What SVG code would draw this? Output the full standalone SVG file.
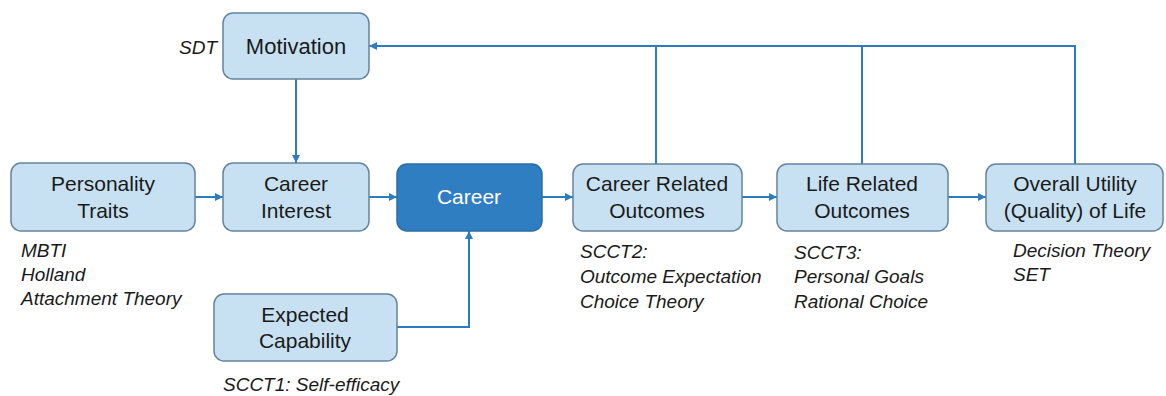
<svg xmlns="http://www.w3.org/2000/svg" width="1166" height="396" viewBox="0 0 1166 396">
<style>
.box{fill:#c7e1f2;stroke:#65849e;stroke-width:1.5}
.main{fill:#2f7ec2;stroke:#2a6da8;stroke-width:1.5}
.t{font-family:"Liberation Sans",Arial,sans-serif;font-size:21px;fill:#1a1a1a;text-anchor:middle}
.tw{fill:#ffffff}
.n{font-family:"Liberation Sans",Arial,sans-serif;font-size:19px;font-style:italic;fill:#1a1a1a}
.c{fill:none;stroke:#2e7cc0;stroke-width:2}
</style>
<defs>
<marker id="ah" viewBox="0 0 10 10" refX="10" refY="5" markerWidth="9" markerHeight="8" markerUnits="userSpaceOnUse" orient="auto">
<path d="M0,0 L10,5 L0,10 z" fill="#2e7cc0"/>
</marker>
</defs>
<g id="connectors">
<path class="c" d="M296,79 V163" marker-end="url(#ah)"/>
<path class="c" d="M195,197 H223" marker-end="url(#ah)"/>
<path class="c" d="M369,197 H397" marker-end="url(#ah)"/>
<path class="c" d="M542,197 H573" marker-end="url(#ah)"/>
<path class="c" d="M742,197 H777" marker-end="url(#ah)"/>
<path class="c" d="M948,197 H986" marker-end="url(#ah)"/>
<path class="c" d="M397,327 H469 V231" marker-end="url(#ah)"/>
<path class="c" d="M1075,164 V46 H369" marker-end="url(#ah)"/>
<path class="c" d="M656,164 V46"/>
<path class="c" d="M862,164 V46"/>
</g>
<g id="motivation">
<rect class="box" x="223" y="13" width="146" height="66" rx="10"/>
<text class="t" x="296" y="54" style="font-size:22px">Motivation</text>
<text class="n" x="217" y="54" text-anchor="end">SDT</text>
</g>
<g id="personality">
<rect class="box" x="11" y="163" width="184" height="68" rx="10"/>
<text class="t" x="103" y="191">Personality</text>
<text class="t" x="103" y="218">Traits</text>
<text class="n" x="21" y="257">MBTI</text>
<text class="n" x="21" y="281">Holland</text>
<text class="n" x="21" y="305">Attachment Theory</text>
</g>
<g id="interest">
<rect class="box" x="223" y="163" width="146" height="68" rx="10"/>
<text class="t" x="296" y="191">Career</text>
<text class="t" x="296" y="218">Interest</text>
</g>
<g id="career">
<rect class="main" x="397" y="164" width="145" height="67" rx="10"/>
<text class="t tw" x="469" y="204">Career</text>
</g>
<g id="capability">
<rect class="box" x="214" y="294" width="183" height="67" rx="10"/>
<text class="t" x="305" y="322">Expected</text>
<text class="t" x="305" y="348">Capability</text>
<text class="n" x="223" y="391">SCCT1: Self-efficacy</text>
</g>
<g id="career-outcomes">
<rect class="box" x="573" y="164" width="169" height="67" rx="10"/>
<text class="t" x="657" y="191">Career Related</text>
<text class="t" x="657" y="218">Outcomes</text>
<text class="n" x="580" y="258">SCCT2:</text>
<text class="n" x="580" y="283">Outcome Expectation</text>
<text class="n" x="580" y="308">Choice Theory</text>
</g>
<g id="life-outcomes">
<rect class="box" x="777" y="164" width="171" height="67" rx="10"/>
<text class="t" x="862" y="191">Life Related</text>
<text class="t" x="862" y="218">Outcomes</text>
<text class="n" x="794" y="259">SCCT3:</text>
<text class="n" x="794" y="283">Personal Goals</text>
<text class="n" x="794" y="308">Rational Choice</text>
</g>
<g id="utility">
<rect class="box" x="986" y="164" width="177" height="67" rx="10"/>
<text class="t" x="1075" y="191">Overall Utility</text>
<text class="t" x="1075" y="218">(Quality) of Life</text>
<text class="n" x="1013" y="257">Decision Theory</text>
<text class="n" x="1013" y="281">SET</text>
</g>
</svg>
